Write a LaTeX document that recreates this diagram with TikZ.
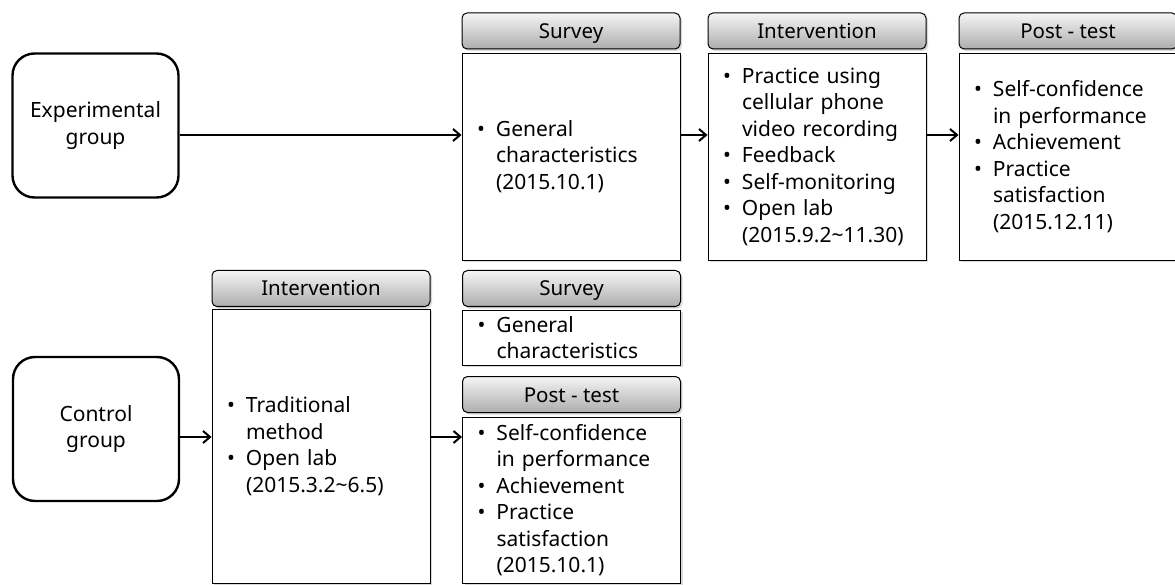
\documentclass[tikz,border=0pt]{standalone}
\usepackage{fontspec}
\setmainfont{Noto Sans}
\usepackage{tikz}
\usetikzlibrary{arrows.meta}
\usetikzlibrary{shadows}
\tikzset{t/.style={font=\fontsize{21}{26.5}\selectfont}}
\tikzset{grp/.style={draw, line width=2.4pt, rounded corners=22pt, minimum width=166pt, minimum height=144pt, align=center, t}}
\tikzset{hd/.style={draw, line width=1pt, rounded corners=5pt, top color=black!4, bottom color=black!32, minimum width=218pt, minimum height=36pt, inner sep=0pt, text height=16.5pt, text depth=1.5pt, font=\fontsize{20.5}{24}\selectfont, drop shadow={shadow xshift=2pt, shadow yshift=-2pt, opacity=.3}}}
\tikzset{bd/.style={draw, line width=.9pt, fill=white, text width=188pt, inner xsep=15pt, inner ysep=0pt, align=left, t, drop shadow={shadow xshift=2pt, shadow yshift=-2pt, opacity=.3}}}
\tikzset{arr/.style={-{Straight Barb[length=7pt, width=12pt]}, line width=2pt}}
\newcommand{\itm}[1]{\hangindent=19pt\hangafter=1\noindent\makebox[19pt][l]{•}#1\par}

\begin{document}
\begin{tikzpicture}[x=1pt, y=-1pt]
    \useasboundingbox (0,0) rectangle (1175,585);
    % groups
    \node[grp] (eg) at (95.5,125.5) {Experimental\\group};
    \node[grp] (cg) at (96,429) {Control\\group};
    % experimental group
    \node[hd] (sh1) at (571,31) {Survey};
    \node[bd, minimum height=207pt] (sb1) at (571,156.5)
      {\itm{General\newline characteristics\newline (2015.10.1)}};
    \node[hd] (ih1) at (817,31) {Intervention};
    \node[bd, minimum height=207pt] (ib1) at (817,156.5)
      {\itm{Practice using\newline cellular phone\newline video recording}
       \itm{Feedback}
       \itm{Self-monitoring}
       \itm{Open lab\newline (2015.9.2\textasciitilde 11.30)}};
    \node[hd] (ph1) at (1068,31) {Post - test};
    \node[bd, minimum height=207pt] (pb1) at (1068,156.5)
      {\itm{Self-confidence\newline in performance}
       \itm{Achievement}
       \itm{Practice\newline satisfaction\newline (2015.12.11)}};
    % control group
    \node[hd] (ih2) at (321,288.5) {Intervention};
    \node[bd, minimum height=274pt] (ib2) at (321,446)
      {\itm{Traditional\newline method}
       \itm{Open lab\newline (2015.3.2\textasciitilde 6.5)}};
    \node[hd] (sh2) at (571.5,288.5) {Survey};
    \node[bd, minimum height=55pt] (sb2) at (571.5,337.5)
      {\itm{General\newline characteristics}};
    \node[hd] (ph2) at (571.5,394.5) {Post - test};
    \node[bd, minimum height=166pt] (pb2) at (571.5,500)
      {\itm{Self-confidence\newline in performance}
       \itm{Achievement}
       \itm{Practice\newline satisfaction\newline (2015.10.1)}};
    % arrows
    \draw[arr] ([yshift=-9.5pt]eg.east) -- ([yshift=-9.5pt]eg.east -| sb1.west);
    \draw[arr] ([yshift=21.5pt]sb1.east) -- ([yshift=21.5pt]ib1.west);
    \draw[arr] ([yshift=21.5pt]ib1.east) -- ([yshift=21.5pt]pb1.west);
    \draw[arr] ([yshift=-8pt]cg.east) -- ([yshift=-8pt]cg.east -| ib2.west);
    \draw[arr] ([yshift=9pt]ib2.east) -- ([yshift=9pt]ib2.east -| pb2.west);
\end{tikzpicture}
\end{document}
